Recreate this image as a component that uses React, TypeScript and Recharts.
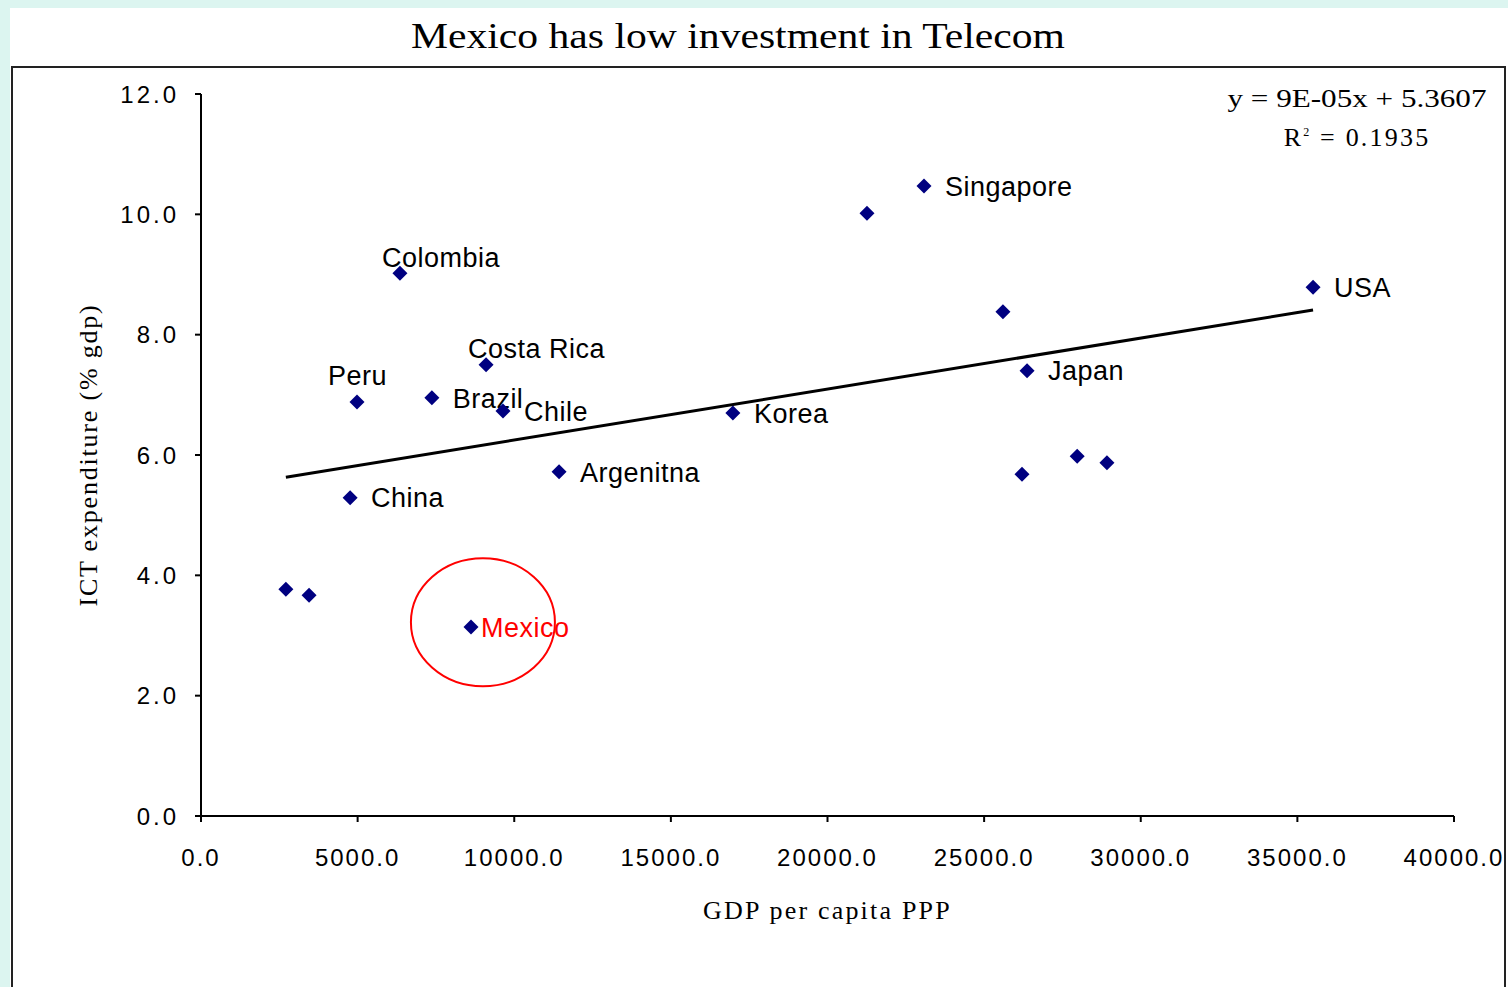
import React from "react";
import { Label, ReferenceDot, ReferenceLine, Scatter, ScatterChart, XAxis, YAxis } from "recharts";

// points; blank name = unlabelled point
const countries = ["", "", "China", "Peru", "Colombia", "Brazil", "Mexico", "Costa Rica", "Chile", "Argenitna", "Korea", "", "Singapore", "", "", "Japan", "", "", "USA"];
const gdpPerCapita = [2710, 3450, 4760, 4980, 6350, 7370, 8620, 9100, 9640, 11430, 16980, 21260, 23080, 25600, 26210, 26370, 27970, 28920, 35500];
const ictSpend = [3.77, 3.67, 5.29, 6.88, 9.02, 6.95, 3.14, 7.5, 6.73, 5.72, 6.7, 10.02, 10.47, 8.38, 5.68, 7.4, 5.98, 5.87, 8.79];

const xTicks = [0, 5000, 10000, 15000, 20000, 25000, 30000, 35000, 40000];
const yTicks = [0, 2, 4, 6, 8, 10, 12];

const trendEnds = [
  { x: 2710, y: 5.63 },
  { x: 35500, y: 8.41 },
];
const highlight = { x: 9000, y: 3.22 };

const data = countries.map((name, i) => ({ name, x: gdpPerCapita[i], y: ictSpend[i] }));

// where a country label sits relative to its marker
const labelPlacement: Record<string, string> = {
  Colombia: "above",
  "Costa Rica": "above",
  Peru: "aboveLeft",
  Mexico: "near",
};

const NAVY = "#000080";
const SANS = "'Liberation Sans', Arial, sans-serif";
const SERIF = "'Liberation Serif', 'Times New Roman', serif";

const CountryMarker = (props: any) => {
  const { cx, cy, payload } = props;
  const name: string = payload?.name ?? "";
  const r = 7.5;
  let tx = cx + 21;
  let ty = cy;
  const place = labelPlacement[name];
  if (place === "above") {
    tx = cx - 18;
    ty = cy - 16;
  } else if (place === "aboveLeft") {
    tx = cx - 29;
    ty = cy - 27;
  } else if (place === "near") {
    tx = cx + 10;
  }
  return (
    <g>
      <polygon points={`${cx},${cy - r} ${cx + r},${cy} ${cx},${cy + r} ${cx - r},${cy}`} fill={NAVY} />
      {name && (
        <text
          x={tx}
          y={ty}
          dy="0.36em"
          fontFamily={SANS}
          fontSize={27}
          letterSpacing={0.5}
          fill={name === "Mexico" ? "#ff0000" : "#000"}
        >
          {name}
        </text>
      )}
    </g>
  );
};

const xTickStyle = { fontSize: 24, fill: "#000", fontFamily: SANS, letterSpacing: 2 };
const yTickStyle = { fontSize: 24, fill: "#000", fontFamily: SANS, letterSpacing: 3 };

export default function App() {
  return (
    <div style={{ position: "absolute", left: 0, top: 0, width: 1508, height: 987, background: "#dcf5f0", overflow: "hidden" }}>
      <div style={{ position: "absolute", left: 10, top: 8, right: 0, bottom: 0, background: "#fff" }} />
      <div
        style={{
          position: "absolute",
          left: 11,
          top: 66,
          width: 1495,
          height: 940,
          border: "2px solid #222",
          boxSizing: "border-box",
        }}
      />
      <svg width={1508} height={987} style={{ position: "absolute", left: 0, top: 0 }}>
        <text x={738} y={48} textAnchor="middle" fontFamily={SERIF} fontSize={36} textLength={654} lengthAdjust="spacingAndGlyphs" fill="#000">
          Mexico has low investment in Telecom
        </text>
        <text x={1357} y={107} textAnchor="middle" fontFamily={SERIF} fontSize={26} textLength={259} lengthAdjust="spacingAndGlyphs" fill="#000">
          y = 9E-05x + 5.3607
        </text>
        <text x={1357} y={146} textAnchor="middle" fontFamily={SERIF} fontSize={26} letterSpacing={2.2} fill="#000">
          R<tspan dy={-10} fontSize={12}>2</tspan>
          <tspan dy={10}> = 0.1935</tspan>
        </text>
      </svg>
      <div style={{ position: "absolute", left: 0, top: 0 }}>
        <ScatterChart width={1508} height={987} margin={{ top: 94, right: 54, bottom: 61, left: 81 }}>
          <XAxis
            type="number"
            dataKey="x"
            domain={[0, 40000]}
            ticks={xTicks}
            interval={0}
            tickFormatter={(v: number) => v.toFixed(1)}
            tick={xTickStyle}
            tickSize={6}
            tickMargin={27}
            height={110}
            axisLine={{ stroke: "#000", strokeWidth: 2 }}
            tickLine={{ stroke: "#000", strokeWidth: 2 }}
          >
            <Label
              value="GDP  per capita PPP"
              position="insideBottom"
              offset={7}
              fontFamily={SERIF}
              fontSize={26}
              fill="#000"
              style={{ letterSpacing: "2.2px", whiteSpace: "pre" }}
            />
          </XAxis>
          <YAxis
            type="number"
            dataKey="y"
            domain={[0, 12]}
            ticks={yTicks}
            interval={0}
            tickFormatter={(v: number) => v.toFixed(1)}
            tick={yTickStyle}
            tickSize={6}
            tickMargin={16}
            width={120}
            axisLine={{ stroke: "#000", strokeWidth: 2 }}
            tickLine={{ stroke: "#000", strokeWidth: 2 }}
          >
            <Label
              value="ICT expenditure (% gdp)"
              angle={-90}
              position="insideLeft"
              offset={7}
              fontFamily={SERIF}
              fontSize={26}
              fill="#000"
              style={{ textAnchor: "middle", letterSpacing: "1.8px" }}
            />
          </YAxis>
          <ReferenceLine segment={trendEnds} stroke="#000" strokeWidth={3} />
          <Scatter data={data} isAnimationActive={false} shape={(p: any) => <CountryMarker {...p} />} />
          <ReferenceDot
            x={highlight.x}
            y={highlight.y}
            r={64}
            shape={(p: any) => (
              <ellipse cx={p.cx} cy={p.cy} rx={72} ry={64} fill="none" stroke="#ff0000" strokeWidth={2} />
            )}
          />
        </ScatterChart>
      </div>
    </div>
  );
}
